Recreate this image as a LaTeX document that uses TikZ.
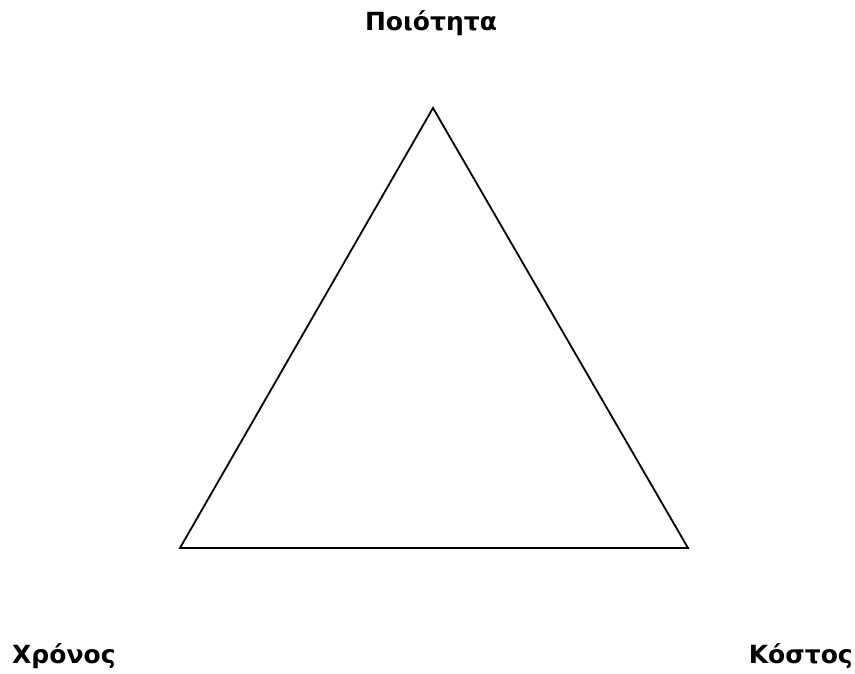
\documentclass[tikz,border=0pt]{standalone}
\usepackage{fontspec}
\setmainfont{DejaVu Sans}
\usetikzlibrary{positioning,calc}

\begin{document}
\begin{tikzpicture}[x=1pt, y=-1pt, auto]
    \tikzset{
        label/.style={font=\fontsize{25}{30}\selectfont\bfseries, inner sep=0pt},
        edge/.style={draw, line width=1.8pt, line join=miter}
    }
    \useasboundingbox (0,0) rectangle (855,674);
    % Corners
    \coordinate (top) at (433,108);
    \coordinate (left) at (180,548);
    \coordinate (right) at (688,548);
    % Labels
    \node (quality) [label, anchor=base] at (431,31) {Ποιότητα};
    \node (time) [label, anchor=base west] at (12,663) {Χρόνος};
    \node (cost) [label, anchor=base east] at (853,663) {Κόστος};
    % Triangle
    \draw [edge] (top) -- (left) -- (right) -- cycle;
\end{tikzpicture}
\end{document}
